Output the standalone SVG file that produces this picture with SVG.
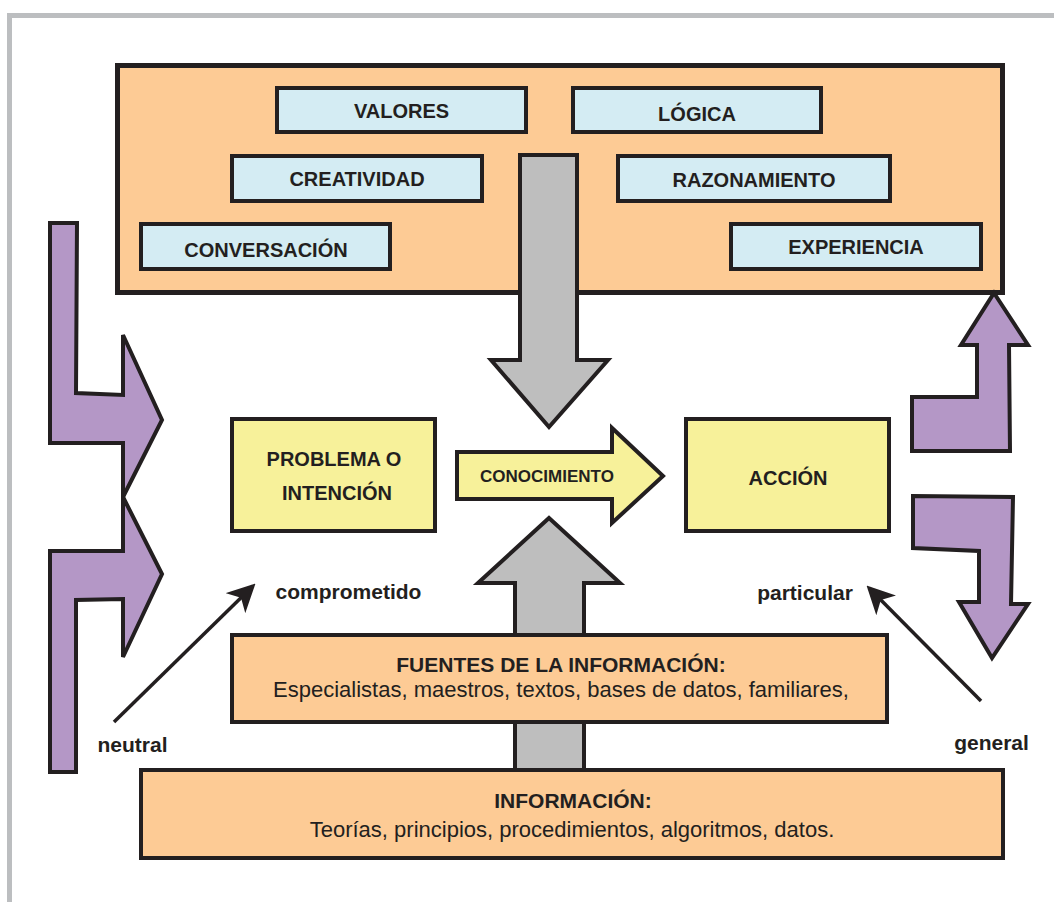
<svg xmlns="http://www.w3.org/2000/svg" width="1054" height="902" viewBox="0 0 1054 902">
<defs>
<style>
.frame{fill:none;stroke:#bcbec0;stroke-width:5}
.org{fill:#fdcb95;stroke:#231f20;stroke-width:4}
.blue{fill:#d4ecf3;stroke:#231f20;stroke-width:4}
.yel{fill:#f7f19a;stroke:#231f20;stroke-width:4}
.pur{fill:#b497c6;stroke:#231f20;stroke-width:4;stroke-linejoin:miter}
.gray{fill:#bebebe;stroke:#231f20;stroke-width:4}
.t{font-family:"Liberation Sans",Arial,sans-serif;fill:#231f20;text-anchor:middle}
.b{font-weight:bold}
.line{stroke:#231f20;stroke-width:3.5;fill:none}
</style>
<marker id="ah" markerWidth="8" markerHeight="8" refX="7" refY="4" orient="auto" markerUnits="strokeWidth" viewBox="0 0 8 8">
<path d="M0,0 L8,4 L0,8 L2.2,4 z" fill="#231f20"/>
</marker>
</defs>
<path class="frame" d="M9.5,902 V15.5 H1054"/>

<g id="top-box">
<rect x="117.5" y="65.5" width="885" height="227" class="org" style="stroke-width:5"/>
</g>
<g id="valores"><rect x="277" y="88" width="249" height="44" class="blue"/><text class="t b" x="401.5" y="118" font-size="20">VALORES</text></g>
<g id="logica"><rect x="573" y="88" width="248" height="44" class="blue"/><text class="t b" x="697" y="121" font-size="20">LÓGICA</text></g>
<g id="creatividad"><rect x="232" y="156" width="250" height="45" class="blue"/><text class="t b" x="357" y="186" font-size="20">CREATIVIDAD</text></g>
<g id="razonamiento"><rect x="618" y="156" width="272" height="45" class="blue"/><text class="t b" x="754" y="187" font-size="20">RAZONAMIENTO</text></g>
<g id="conversacion"><rect x="141" y="224" width="249" height="45" class="blue"/><text class="t b" x="266" y="257" font-size="20">CONVERSACIÓN</text></g>
<g id="experiencia"><rect x="731" y="224" width="250" height="45" class="blue"/><text class="t b" x="856" y="254" font-size="20">EXPERIENCIA</text></g>

<g id="connectors">
<polygon id="gray-down" class="gray" points="520,155 577,155 577,360 608,360 549,427 491,360 520,360"/>
<polygon id="gray-up" class="gray" points="549,518 620,583 584,583 584,770 515,770 515,583 478,583"/>
<polygon id="purple-left-1" class="pur" points="50,223 77,223 76,393 123,395 123,335 162,420 123,497 123,443 50,443"/>
<polygon id="purple-left-2" class="pur" points="50,551 123,551 123,497 162,574 123,657 123,599 76,600 76,772 50,772"/>
<polygon id="purple-right-up" class="pur" points="994,293 1028,345 1009,345 1010,451 912,451 912,397 977,397 977,345 961,345"/>
<polygon id="purple-right-down" class="pur" points="913,496 1013,497 1011,604 1028,604 992,658 959,602 979,602 979,551 913,548"/>
<line class="line" x1="114" y1="722" x2="253" y2="586" marker-end="url(#ah)"/>
<line class="line" x1="981" y1="701" x2="869" y2="588" marker-end="url(#ah)"/>
</g>

<g id="problema"><rect x="232" y="419" width="203" height="112" class="yel"/><text class="t b" x="334" y="466" font-size="20">PROBLEMA O</text><text class="t b" x="337" y="500" font-size="20">INTENCIÓN</text></g>
<g id="conocimiento"><polygon class="yel" points="457,452 612,452 612,428 663,476 612,523 612,499 457,499"/><text class="t b" x="547" y="482" font-size="17">CONOCIMIENTO</text></g>
<g id="accion"><rect x="686" y="419" width="203" height="112" class="yel"/><text class="t b" x="788" y="485" font-size="20">ACCIÓN</text></g>

<g id="fuentes"><rect x="232" y="635" width="655" height="87" class="org"/><text class="t b" x="561" y="672" font-size="21">FUENTES DE LA INFORMACIÓN:</text><text class="t" x="561" y="697" font-size="22">Especialistas, maestros, textos, bases de datos, familiares,</text></g>
<g id="informacion"><rect x="141" y="770" width="862" height="88" class="org"/><text class="t b" x="573" y="808" font-size="21">INFORMACIÓN:</text><text class="t" x="572" y="837" font-size="22">Teorías, principios, procedimientos, algoritmos, datos.</text></g>

<g id="labels">
<text class="t b" x="348.5" y="599" font-size="21">comprometido</text>
<text class="t b" x="805" y="600" font-size="21">particular</text>
<text class="t b" x="132.5" y="752" font-size="21">neutral</text>
<text class="t b" x="991.5" y="750" font-size="21">general</text>
</g>
</svg>
